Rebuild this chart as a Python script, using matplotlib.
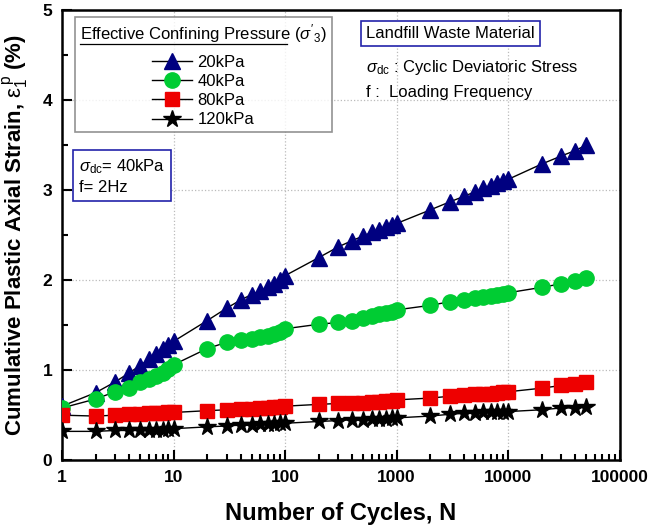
import matplotlib
matplotlib.use("Agg")
import matplotlib.pyplot as plt
from matplotlib.lines import Line2D
from matplotlib.ticker import LogLocator, MultipleLocator, NullFormatter, FixedLocator, FixedFormatter
import numpy as np

plt.rcParams['font.family'] = ['Liberation Sans', 'DejaVu Sans']
plt.rcParams['mathtext.fontset'] = 'custom'
plt.rcParams['mathtext.rm'] = 'Liberation Sans'
plt.rcParams['mathtext.it'] = 'Liberation Sans:italic'
plt.rcParams['mathtext.bf'] = 'Liberation Sans:bold'

cycles = [1, 2, 3, 4, 5, 6, 7, 8, 9, 10,
          20, 30, 40, 50, 60, 70, 80, 90, 100,
          200, 300, 400, 500, 600, 700, 800, 900, 1000,
          2000, 3000, 4000, 5000, 6000, 7000, 8000, 9000, 10000,
          20000, 30000, 40000, 50000]

strain_20kpa = [0.60, 0.75, 0.87, 0.97, 1.05, 1.12, 1.18, 1.23, 1.28, 1.32,
                1.55, 1.69, 1.78, 1.84, 1.88, 1.92, 1.96, 2.00, 2.05,
                2.25, 2.37, 2.44, 2.49, 2.53, 2.56, 2.59, 2.61, 2.63,
                2.78, 2.87, 2.93, 2.98, 3.02, 3.05, 3.08, 3.10, 3.12,
                3.29, 3.38, 3.44, 3.50]

strain_40kpa = [0.58, 0.68, 0.76, 0.80, 0.87, 0.90, 0.93, 0.97, 1.01, 1.06,
                1.24, 1.31, 1.33, 1.35, 1.37, 1.38, 1.40, 1.42, 1.46,
                1.51, 1.53, 1.55, 1.58, 1.60, 1.62, 1.64, 1.65, 1.67,
                1.72, 1.76, 1.78, 1.80, 1.81, 1.82, 1.84, 1.85, 1.86,
                1.92, 1.96, 1.99, 2.02]

strain_80kpa = [0.50, 0.49, 0.50, 0.51, 0.51, 0.52, 0.52, 0.52, 0.53, 0.53,
                0.55, 0.56, 0.57, 0.57, 0.58, 0.58, 0.59, 0.59, 0.60,
                0.62, 0.63, 0.64, 0.64, 0.65, 0.65, 0.66, 0.66, 0.67,
                0.69, 0.71, 0.72, 0.73, 0.74, 0.74, 0.75, 0.76, 0.76,
                0.80, 0.83, 0.85, 0.87]

strain_120kpa = [0.32, 0.32, 0.33, 0.33, 0.33, 0.34, 0.34, 0.34, 0.35, 0.35,
                 0.37, 0.38, 0.39, 0.39, 0.40, 0.40, 0.40, 0.41, 0.41,
                 0.43, 0.44, 0.45, 0.45, 0.46, 0.46, 0.46, 0.47, 0.47,
                 0.49, 0.51, 0.52, 0.52, 0.53, 0.53, 0.54, 0.54, 0.54,
                 0.56, 0.58, 0.58, 0.59]

labels = ['20kPa', '40kPa', '80kPa', '120kPa']
series = [strain_20kpa, strain_40kpa, strain_80kpa, strain_120kpa]
colors = ['#000080', '#00CC33', '#EE0000', '#000000']
markers = ['^', 'o', 's', '*']
msizes = [11, 11, 10, 13]

xticks = [1, 10, 100, 1000, 10000, 100000]
xticklabels = ['1', '10', '100', '1000', '10000', '100000']

fig = plt.figure(figsize=(6.53, 5.32), dpi=100)
ax = fig.add_axes([0.095, 0.135, 0.854, 0.846])

handles = []
for ys, c, m, ms, lab in zip(series, colors, markers, msizes, labels):
    ax.plot(cycles, ys, color='black', lw=1.0, zorder=2)
    ax.plot(cycles, ys, ls='none', marker=m, ms=ms, color=c, mec=c, zorder=3)
    handles.append(Line2D([], [], color='black', lw=1.0, marker=m, ms=ms,
                          mfc=c, mec=c, label=lab))

ax.set_xscale('log')
ax.set_xlim(1, 100000)
ax.set_ylim(0, 5)
ax.xaxis.set_major_locator(FixedLocator(xticks))
ax.xaxis.set_major_formatter(FixedFormatter(xticklabels))
ax.xaxis.set_minor_locator(LogLocator(base=10, subs=np.arange(2, 10), numticks=20))
ax.xaxis.set_minor_formatter(NullFormatter())
ax.yaxis.set_major_locator(MultipleLocator(1))
ax.yaxis.set_minor_locator(MultipleLocator(0.5))

ax.tick_params(which='both', direction='in', top=False, right=False, width=1.5)
ax.tick_params(which='major', length=7, labelsize=12.5, pad=7)
ax.tick_params(which='minor', length=4)
for lab in ax.get_xticklabels() + ax.get_yticklabels():
    lab.set_fontweight('bold')
for sp in ax.spines.values():
    sp.set_linewidth(1.8)

ax.grid(True, which='major', ls=':', color='#bbbbbb', lw=0.9)
ax.set_axisbelow(True)

ax.set_xlabel('Number of Cycles, N', fontsize=17, fontweight='bold', labelpad=12)
ax.set_ylabel(r'Cumulative Plastic Axial Strain, $\mathrm{\varepsilon_1^{\,p}}$ (%)',
              fontsize=16, fontweight='bold', labelpad=8)

leg = ax.legend(handles=handles, loc='upper left', bbox_to_anchor=(0.023, 0.984),
                title="Effective Confining Pressure $(\\sigma'_3)$",
                fontsize=12, title_fontsize=12, frameon=True, fancybox=False,
                edgecolor='#777777', handlelength=2.4, handletextpad=0.3,
                labelspacing=0.25, borderpad=0.3, alignment='center',
                borderaxespad=0)
leg.get_frame().set_linewidth(1.2)
leg._legend_box.sep = 7

ax.text(0.545, 0.948, 'Landfill Waste Material', transform=ax.transAxes,
        fontsize=12, va='center', ha='left',
        bbox=dict(boxstyle='square,pad=0.3', fc='white', ec='#2222aa', lw=1.2))
ax.text(0.545, 0.873, r'$\sigma_{\mathrm{dc}}$ : Cyclic Deviatoric Stress',
        transform=ax.transAxes, fontsize=12, va='center', ha='left')
ax.text(0.545, 0.818, 'f :  Loading Frequency',
        transform=ax.transAxes, fontsize=12, va='center', ha='left')

ax.text(0.031, 0.631, '$\\sigma_{\\mathrm{dc}}$= 40kPa\nf= 2Hz',
        transform=ax.transAxes, fontsize=12, va='center', ha='left',
        linespacing=1.35,
        bbox=dict(boxstyle='square,pad=0.35', fc='white', ec='#2222aa', lw=1.2))

# underline the legend title
fig.canvas.draw()
title = leg.get_title()
bb = title.get_window_extent()
inv = fig.transFigure.inverted()
(x0, y0) = inv.transform((bb.x0, bb.y0 + 1))
(x1, _) = inv.transform((bb.x0 + bb.width * 0.84, bb.y0))
fig.add_artist(Line2D([x0, x1], [y0, y0], color='black', lw=0.9,
                      transform=fig.transFigure, zorder=10))

fig.savefig('out.png', dpi=100)
